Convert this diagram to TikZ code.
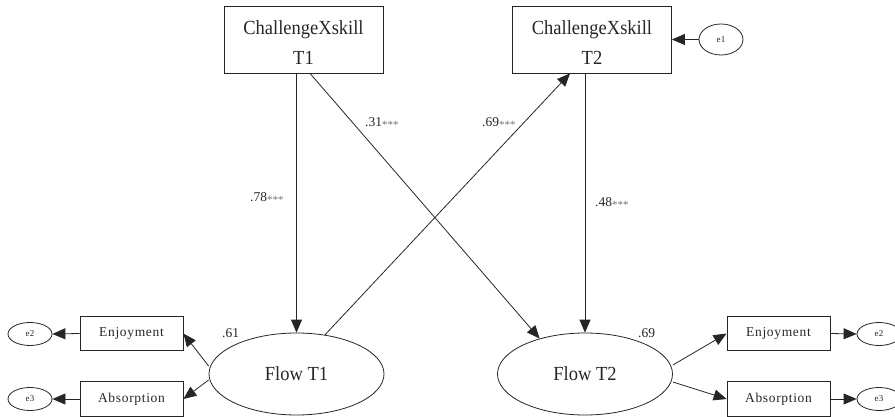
\documentclass[tikz,border=0pt]{standalone}
\usepackage{fontspec}
\usepackage{graphicx}
\setmainfont{Liberation Serif}
\usetikzlibrary{arrows.meta,shapes.geometric}
\begin{document}
\begin{tikzpicture}[x=1pt,y=-1pt,
  every node/.style={text=black!85},
  var/.style={draw=black!85, line width=0.8pt, minimum width=159pt, minimum height=67pt, inner sep=0pt, font=\fontsize{18.5}{27.5}\selectfont},
  ind/.style={draw=black!85, line width=0.8pt, minimum width=103pt, minimum height=34.5pt, inner sep=0pt, font=\fontsize{13.5}{16}\selectfont\addfontfeature{LetterSpace=5}},
  lat/.style={draw=black!85, ellipse, line width=0.8pt, minimum width=175pt, minimum height=82pt, inner sep=0pt, font=\fontsize{18.5}{22}\selectfont},
  err/.style={draw=black!85, ellipse, line width=0.8pt, minimum width=44pt, minimum height=23pt, inner sep=0pt, font=\fontsize{9}{10}\selectfont\addfontfeature{LetterSpace=5}},
  pth/.style={draw=black!85, -{Triangle[length=13pt,width=11pt]}, line width=0.8pt},
  coef/.style={font=\fontsize{13.5}{16}\selectfont, inner sep=0pt, anchor=west}
  ]
\useasboundingbox (0,0) rectangle (895,417);
\newcommand{\sig}{{\color{black!55}\fontsize{11}{11}\selectfont\raisebox{-0.3ex}{***}}}
\newcommand{\twoline}[2]{\raisebox{-4pt}[\height][\depth]{\scalebox{1}[1.08]{\begin{tabular}{@{}c@{}}#1\\#2\end{tabular}}}}
\newcommand{\tall}[1]{\scalebox{1}[1.08]{#1}}
% variables
\node[var] (c1) at (303.5,39.5) {\twoline{ChallengeXskill}{T1}};
\node[var] (c2) at (592,39.5) {\twoline{ChallengeXskill}{T2}};
\node[err, minimum height=31pt] (e1) at (721,39.5) {e1};
\node[lat] (f1) at (296.5,374) {\tall{Flow T1}};
\node[lat] (f2) at (585,374) {\tall{Flow T2}};
\node[ind] (en1) at (131.5,333.5) {Enjoyment};
\node[ind] (ab1) at (131.5,399) {Absorption};
\node[ind] (en2) at (778.5,333.5) {Enjoyment};
\node[ind] (ab2) at (778.5,399) {Absorption};
\node[err] (e2a) at (30,334) {e2};
\node[err] (e3a) at (30,399) {e3};
\node[err] (e2b) at (879,334) {e2};
\node[err] (e3b) at (879,399) {e3};
% structural paths
\draw[pth] (f1.north |- c1.south) -- (f1.north);
\draw[pth] (f2.north |- c2.south) -- (f2.north);
\draw[pth] ([xshift=6.5pt]c1.south) -- (f2.142);
\draw[pth] (f1.54) -- ([xshift=-22pt]c2.south);
\draw[pth] (e1.west) -- (c2.east);
% measurement paths
\draw[pth] ([yshift=8pt]f1.west) -- (en1.east);
\draw[pth] ([yshift=-6pt]f1.west) -- (ab1.east);
\draw[pth] ([yshift=9pt]f2.east) -- (en2.west);
\draw[pth] ([yshift=-8pt]f2.east) -- (ab2.west);
\draw[pth] (en1.west) -- (e2a.east);
\draw[pth] (ab1.west) -- (e3a.east);
\draw[pth] (en2.east) -- (e2b.west);
\draw[pth] (ab2.east) -- (e3b.west);
% coefficients
\node[coef] (r1) at (222,333) {.61};
\node[coef] (r2) at (638,333) {.69};
\node[coef] (p1) at (365,123) {.31\sig};
\node[coef] (p2) at (482,123) {.69\sig};
\node[coef] (p3) at (250,198) {.78\sig};
\node[coef] (p4) at (595,203) {.48\sig};
\end{tikzpicture}
\end{document}
